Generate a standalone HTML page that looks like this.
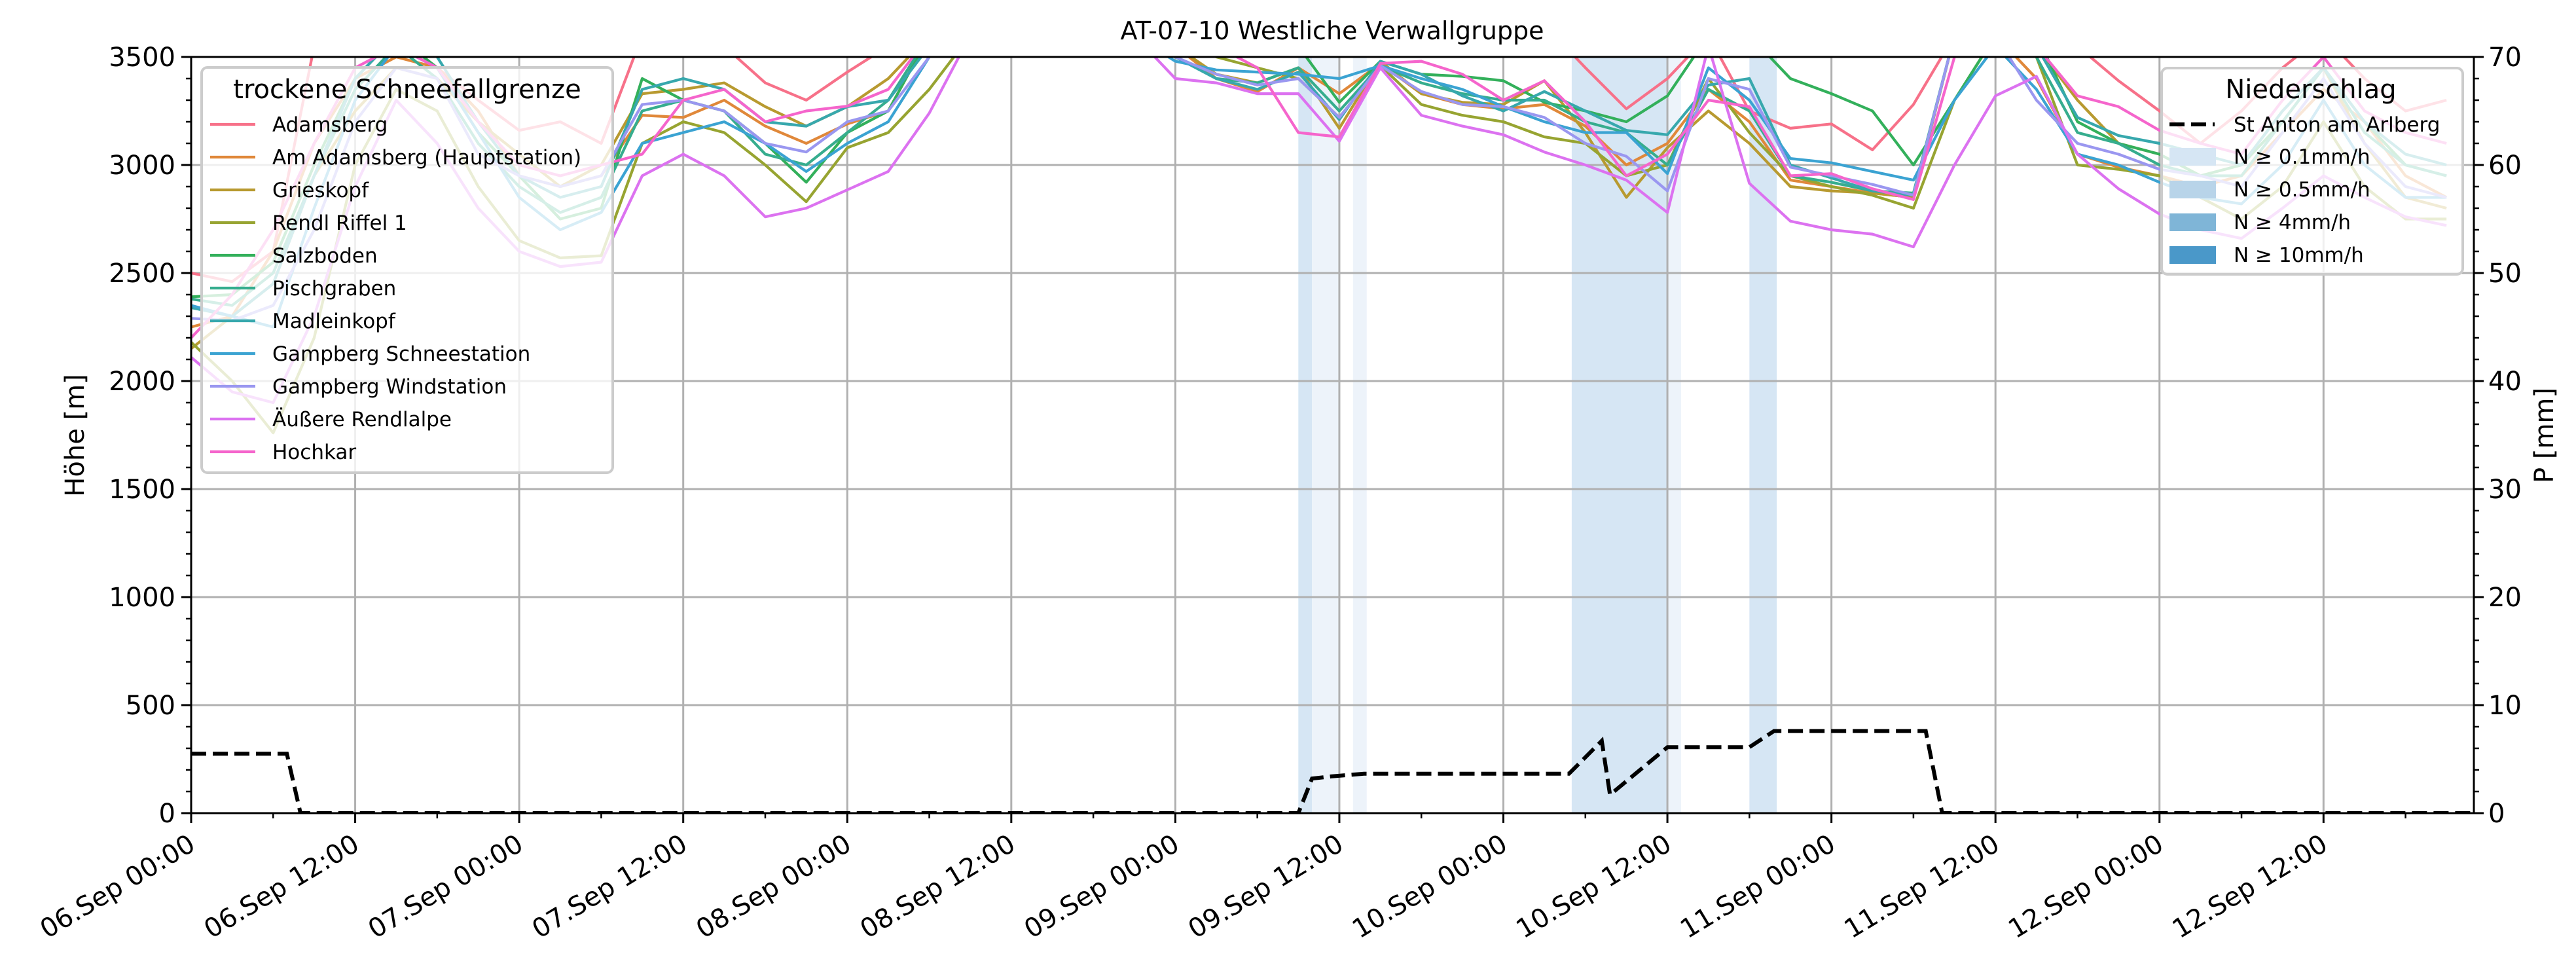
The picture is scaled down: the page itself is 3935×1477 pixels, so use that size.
<!DOCTYPE html>
<html><head><meta charset="utf-8"><title>AT-07-10 Westliche Verwallgruppe</title>
<style>
html,body{margin:0;padding:0;background:#fff;}
svg{display:block;font-family:"DejaVu Sans","Liberation Sans",sans-serif;}
</style></head>
<body>
<svg id="chart" width="3935" height="1477" viewBox="0 0 3935 1477" xmlns="http://www.w3.org/2000/svg">
<defs><clipPath id="plotclip"><rect x="292" y="87" width="3487" height="1155"/></clipPath></defs>
<rect x="0" y="0" width="3935" height="1477" fill="#fff"/>
<g id="bands" clip-path="url(#plotclip)"></g>
<g id="grid"></g>
<g id="series" clip-path="url(#plotclip)"></g>
<g id="precip" clip-path="url(#plotclip)"></g>
<g id="axes"></g>
<text x="2035" y="60" font-size="38" text-anchor="middle">AT-07-10 Westliche Verwallgruppe</text>
<text transform="translate(128,665) rotate(-90)" font-size="40" text-anchor="middle">Höhe [m]</text>
<text transform="translate(3900,665) rotate(-90)" font-size="40" text-anchor="middle">P [mm]</text>
<g id="legend1"></g>
<g id="legend2"></g>
</svg>
<script>
const NS="http://www.w3.org/2000/svg";
const hours=[0,3,6,9,12,15,18,21,24,27,30,33,36,39,42,45,48,51,54,57,60,63,66,69,72,75,78,81,84,87,90,93,96,99,102,105,108,111,114,117,120,123,126,129,132,135,138,141,144,147,150,153,156,159,162,165];
const seriesNames=["Adamsberg","Am Adamsberg (Hauptstation)","Grieskopf","Rendl Riffel 1","Salzboden","Pischgraben","Madleinkopf","Gampberg Schneestation","Gampberg Windstation","Äußere Rendlalpe","Hochkar"];
const seriesColors=["#f77189","#e0883a","#b89a30","#97a431","#33b05b","#36ad8e","#37a8ad","#3ba3d2","#9a97f0","#dc72f0","#f565cc"];
const sAdamsberg=[2500,2460,2600,3550,3600,3600,3450,3300,3160,3200,3100,3600,3600,3550,3380,3300,3430,3550,3650,3650,3650,3650,3650,3650,3650,3650,3650,3650,3650,3650,3650,3650,3650,3650,3450,3260,3400,3600,3250,3170,3190,3070,3280,3600,3600,3600,3550,3390,3250,3100,3250,3450,3600,3400,3250,3300];
const sAmAdamsberg=[2250,2300,2600,3100,3400,3500,3450,3250,2950,2900,2950,3230,3220,3300,3180,3100,3190,3250,3600,3600,3600,3600,3600,3600,3550,3400,3340,3450,3330,3470,3330,3280,3260,3280,3180,3000,3100,3350,3200,2930,2900,2870,2850,3600,3600,3400,3050,2990,2950,2900,2950,3150,3350,3200,2950,2850];
const sGrieskopf=[2150,2300,2450,2950,3250,3450,3400,3200,3050,2900,3000,3330,3350,3380,3270,3180,3270,3400,3600,3600,3600,3600,3600,3600,3550,3420,3380,3450,3170,3480,3330,3290,3280,3390,3150,2850,3080,3250,3100,2900,2880,2870,2850,3600,3600,3550,3300,3100,3050,2950,3000,3250,3450,3100,2850,2800];
const sRendlRiffel=[2180,2000,1760,2200,3000,3350,3250,2900,2650,2570,2580,3100,3200,3150,3000,2830,3080,3150,3350,3600,3600,3600,3600,3600,3600,3500,3450,3400,3220,3460,3280,3230,3200,3130,3100,2950,3000,3400,3150,2950,2900,2860,2800,3300,3600,3500,3000,2980,2950,2850,2750,2900,3200,2900,2750,2750];
const sSalzboden=[2390,2400,2550,3000,3400,3600,3450,3150,2950,2750,2800,3400,3300,3250,3100,2920,3150,3250,3600,3600,3600,3600,3600,3600,3550,3550,3550,3550,3290,3480,3420,3410,3390,3290,3250,3200,3320,3600,3600,3400,3330,3250,3000,3300,3600,3600,3200,3100,3050,2950,3000,3200,3450,3200,3000,2950];
const sPischgraben=[2380,2350,2500,2950,3350,3550,3400,3100,2900,2780,2850,3250,3300,3250,3050,3000,3150,3300,3600,3600,3600,3600,3600,3600,3500,3400,3380,3450,3250,3460,3380,3330,3300,3300,3200,3150,3000,3350,3250,2950,2920,2880,2870,3600,3600,3500,3150,3100,3000,2950,2950,3200,3450,3150,3000,2950];
const sMadleinkopf=[2340,2300,2450,2950,3400,3600,3500,3200,2950,2850,2900,3350,3400,3350,3200,3180,3270,3300,3550,3600,3600,3600,3600,3550,3500,3400,3350,3430,3210,3480,3420,3320,3250,3340,3250,3160,3140,3370,3400,3000,2940,2880,2860,3600,3600,3550,3220,3136,3100,3050,3000,3250,3450,3200,3050,3000];
const sSchneestation=[2350,2300,2250,2800,3300,3550,3450,3150,2850,2700,2780,3100,3150,3200,3100,2970,3100,3200,3500,3600,3600,3600,3600,3600,3480,3440,3430,3420,3400,3460,3400,3350,3270,3200,3150,3150,2960,3450,3300,3030,3010,2970,2930,3300,3550,3350,3050,3000,2920,2850,2820,3000,3300,3000,2850,2850];
const sWindstation=[2290,2280,2350,2700,3200,3450,3400,3050,2950,2900,2950,3280,3300,3250,3100,3060,3200,3250,3500,3600,3600,3600,3600,3600,3500,3420,3370,3400,3220,3460,3340,3280,3270,3220,3100,3040,2880,3400,3350,2990,2950,2910,2860,3600,3600,3300,3100,3050,2980,2950,2900,3150,3400,3100,2900,2850];
const sRendlalpe=[2110,1950,1900,2300,2900,3300,3100,2800,2600,2530,2550,2950,3050,2950,2760,2800,2885,2970,3240,3600,3600,3600,3600,3600,3400,3380,3330,3330,3110,3450,3230,3180,3140,3060,3000,2930,2780,3550,2915,2740,2700,2680,2621,3000,3320,3410,3050,2890,2773,2700,2660,2800,2950,2850,2760,2720];
const sHochkar=[2200,2400,2700,3100,3450,3550,3450,3200,3000,2950,3000,3050,3300,3350,3200,3250,3272,3350,3600,3600,3600,3600,3600,3600,3600,3550,3450,3150,3130,3470,3480,3420,3300,3390,3200,2950,3050,3300,3270,2950,2960,2890,2840,3500,3600,3550,3320,3270,3160,3100,3050,3300,3500,3250,3150,3100];
const seriesValues=[sAdamsberg,sAmAdamsberg,sGrieskopf,sRendlRiffel,sSalzboden,sPischgraben,sMadleinkopf,sSchneestation,sWindstation,sRendlalpe,sHochkar];
const precipHours=[0,7,8,81,82,83.4,85.8,100.8,103.2,103.8,108,114,115.8,126.9,128.1,167];
const precipMM=[5.5,5.5,0,0,3.2,3.4,3.65,3.65,6.7,1.7,6.1,6.1,7.6,7.6,0,0];
const bandStart=[81,82,85,101,108,114];
const bandEnd=[82,84,86,108,109,116];
const bandLevel=[1,0,0,1,0,1];
const xTickLabels=["06.Sep 00:00","06.Sep 12:00","07.Sep 00:00","07.Sep 12:00","08.Sep 00:00","08.Sep 12:00","09.Sep 00:00","09.Sep 12:00","10.Sep 00:00","10.Sep 12:00","11.Sep 00:00","11.Sep 12:00","12.Sep 00:00","12.Sep 12:00"];
const yTicks=[0,500,1000,1500,2000,2500,3000,3500];
const y2Ticks=[0,10,20,30,40,50,60,70];
const X0=292,X1=3779,Y0=1242,Y1=87,HMAX=167;
const xs=h=>X0+h*(X1-X0)/HMAX;
const ys=m=>Y0-m*(Y0-Y1)/3500;
const y2s=p=>Y0-p*(Y0-Y1)/70;
function el(tag,attrs,parent){const e=document.createElementNS(NS,tag);for(const k in attrs)e.setAttribute(k,attrs[k]);parent.appendChild(e);return e;}
const bands=document.getElementById('bands');
for(let i=0;i<bandStart.length;i++){
  const r=el('rect',{x:xs(bandStart[i]),y:Y1,width:xs(bandEnd[i])-xs(bandStart[i]),height:Y0-Y1,fill:bandLevel[i]?'#d6e6f4':'#edf3fa'},bands);
  
  
}
const grid=document.getElementById('grid');
for(let i=0;i<xTickLabels.length;i++){const x=xs(i*12);const l=el('line',{x1:x,x2:x,y1:Y1,y2:Y0,stroke:'#b0b0b0','stroke-width':3},grid);
  
  }
for(const t of yTicks){const y=ys(t);const l=el('line',{x1:X0,x2:X1,y1:y,y2:y,stroke:'#b0b0b0','stroke-width':3},grid);
  
  }
const sg=document.getElementById('series');
for(let s=0;s<seriesValues.length;s++){
  const pts=hours.map((h,i)=>xs(h).toFixed(1)+','+ys(seriesValues[s][i]).toFixed(1)).join(' ');
  const p=el('polyline',{points:pts,fill:'none',stroke:seriesColors[s],'stroke-width':4.2,'stroke-linejoin':'round'},sg);
  
  
}
const pg=document.getElementById('precip');
const pp=el('polyline',{points:precipHours.map((h,i)=>xs(h).toFixed(1)+','+y2s(precipMM[i]).toFixed(1)).join(' '),fill:'none',stroke:'#000','stroke-width':6,'stroke-dasharray':'23,10'},pg);


const ax=document.getElementById('axes');
el('rect',{x:X0,y:Y1,width:X1-X0,height:Y0-Y1,fill:'none',stroke:'#000','stroke-width':3},ax);
for(let m=0;m<=3500;m+=100){const y=ys(m);const major=m%500===0;el('line',{x1:X0-(major?15:8),x2:X0,y1:y,y2:y,stroke:'#000','stroke-width':major?3:2.5},ax);}
for(let p=0;p<=70;p+=2){const y=y2s(p);const major=p%10===0;el('line',{x1:X1,x2:X1+(major?15:8),y1:y,y2:y,stroke:'#000','stroke-width':major?3:2.5},ax);}
for(let h=0;h<=HMAX;h+=6){const x=xs(h);const major=h%12===0;el('line',{x1:x,x2:x,y1:Y0,y2:Y0+(major?15:8),stroke:'#000','stroke-width':major?3:2.5},ax);}
for(const t of yTicks){const tx=el('text',{x:X0-24,y:ys(t)+14,'font-size':40,'text-anchor':'end'},ax);tx.textContent=t;
  
  }
for(const t of y2Ticks){const tx=el('text',{x:X1+22,y:y2s(t)+14,'font-size':40,'text-anchor':'start'},ax);tx.textContent=t;
  
  }
for(let i=0;i<xTickLabels.length;i++){const x=xs(i*12);
  const tx=el('text',{transform:`translate(${x-6},${Y0+30}) rotate(-31)`,'font-size':40,'text-anchor':'end','dominant-baseline':'hanging'},ax);tx.textContent=xTickLabels[i];
  
  }
// legend 1
const lg1=document.getElementById('legend1');
el('rect',{x:308,y:103,width:628,height:619,rx:9,fill:'#fff','fill-opacity':0.8,stroke:'#cccccc','stroke-width':4},lg1);
const lt=el('text',{x:622,y:150,'font-size':40,'text-anchor':'middle'},lg1);lt.textContent='trockene Schneefallgrenze';
for(let s=0;s<seriesNames.length;s++){const y=190+s*50;
  const ln=el('line',{x1:321,x2:390,y1:y,y2:y,stroke:seriesColors[s],'stroke-width':4.2},lg1);
  
  
  const tx=el('text',{x:416,y:y+11,'font-size':31},lg1);tx.textContent=seriesNames[s];
  
  }
// legend 2
const lg2=document.getElementById('legend2');
el('rect',{x:3302,y:104,width:460,height:315,rx:9,fill:'#fff','fill-opacity':0.8,stroke:'#cccccc','stroke-width':4},lg2);
const lt2=el('text',{x:3530,y:150,'font-size':40,'text-anchor':'middle'},lg2);lt2.textContent='Niederschlag';
const dl=el('line',{x1:3314,x2:3383,y1:190,y2:190,stroke:'#000','stroke-width':6,'stroke-dasharray':'23,10'},lg2);


const st=el('text',{x:3412,y:201,'font-size':31},lg2);st.textContent='St Anton am Arlberg';


const pLabels=['N ≥ 0.1mm/h','N ≥ 0.5mm/h','N ≥ 4mm/h','N ≥ 10mm/h'];
const pColors=['#d6e6f4','#b8d4e9','#7fb5d7','#4a98c9'];
for(let i=0;i<4;i++){const y=239+i*50;
  const r=el('rect',{x:3314,y:y-13,width:71,height:27,fill:pColors[i]},lg2);
  
  
  const tx=el('text',{x:3412,y:y+11,'font-size':31},lg2);tx.textContent=pLabels[i];
  
  }
</script>
</body></html>
